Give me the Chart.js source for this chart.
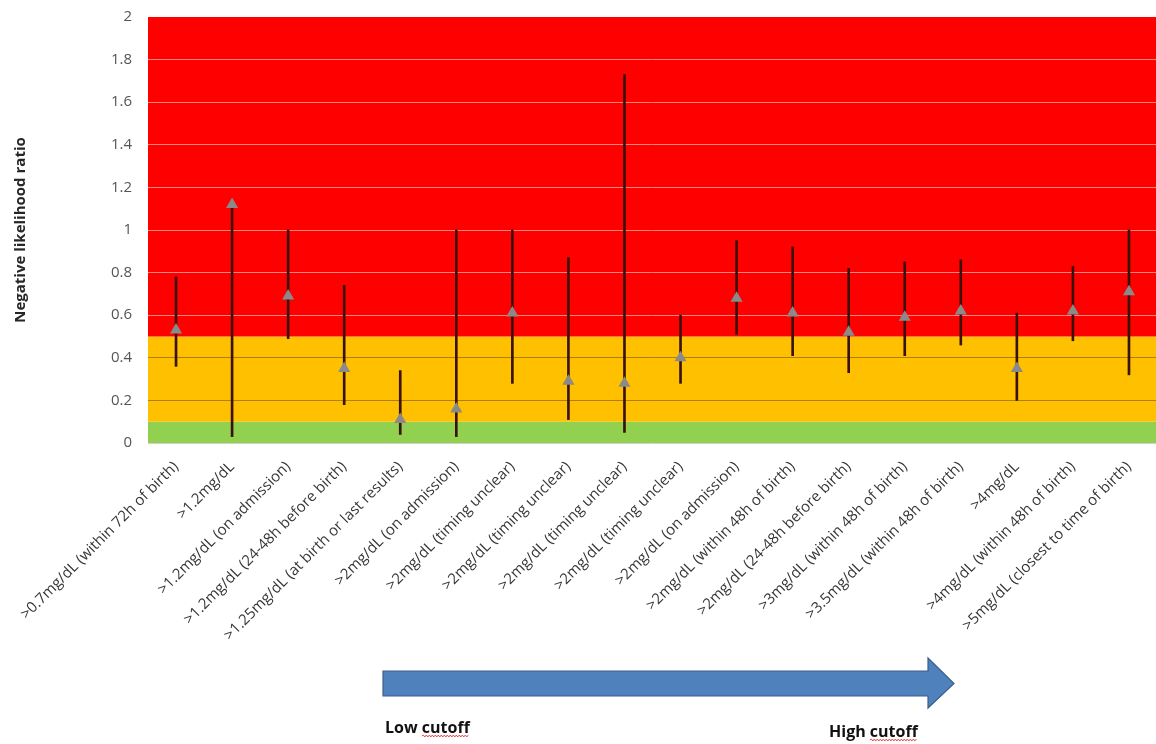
<!DOCTYPE html>
<html>
<head>
<meta charset="utf-8">
<script src="https://cdn.jsdelivr.net/npm/chart.js@4.4.1/dist/chart.umd.min.js"></script>
<style>
  html, body { margin: 0; padding: 0; background: #fff; overflow: hidden; }
  #wrap { width: 1164px; height: 744px; }
</style>
</head>
<body>
<div id="wrap"><canvas id="nlr" width="1164" height="744"></canvas></div>
<script>
// Bilirubin cut-offs, ordered from low to high threshold
const cutoffLabels = [
  ">0.7mg/dL (within 72h of birth)",
  ">1.2mg/dL",
  ">1.2mg/dL (on admission)",
  ">1.2mg/dL (24-48h before birth)",
  ">1.25mg/dL (at birth or last results)",
  ">2mg/dL (on admission)",
  ">2mg/dL (timing unclear)",
  ">2mg/dL (timing unclear)",
  ">2mg/dL (timing unclear)",
  ">2mg/dL (timing unclear)",
  ">2mg/dL (on admission)",
  ">2mg/dL (within 48h of birth)",
  ">2mg/dL (24-48h before birth)",
  ">3mg/dL (within 48h of birth)",
  ">3.5mg/dL (within 48h of birth)",
  ">4mg/dL",
  ">4mg/dL (within 48h of birth)",
  ">5mg/dL (closest to time of birth)"
];

// Negative likelihood ratio point estimates
const nlrValues = [0.53, 1.12, 0.69, 0.35, 0.11, 0.16, 0.61, 0.29, 0.28, 0.40, 0.68, 0.61, 0.52, 0.59, 0.62, 0.35, 0.62, 0.71];
// 95% confidence interval bounds
const ciLower = [0.36, 0.03, 0.49, 0.18, 0.04, 0.03, 0.28, 0.11, 0.05, 0.28, 0.51, 0.41, 0.33, 0.41, 0.46, 0.20, 0.48, 0.32];
const ciUpper = [0.78, 1.12, 1.00, 0.74, 0.34, 1.00, 1.00, 0.87, 1.73, 0.60, 0.95, 0.92, 0.82, 0.85, 0.86, 0.61, 0.83, 1.00];

// Y axis tick labels (0 to 2 in steps of 0.2)
const yTickLabels = ["0", "0.2", "0.4", "0.6", "0.8", "1", "1.2", "1.4", "1.6", "1.8", "2"];

// Background zones: useful (green), moderate (amber), poor (red)
const zoneBounds = [0, 0.1, 0.5, 2];
const zoneColors = ["#92d050", "#ffc000", "#ff0000"];

const FONT = '"Open Sans", "Liberation Sans", Arial, sans-serif';

const zonePlugin = {
  id: "zones",
  beforeDraw(chart) {
    const { ctx, chartArea: a, scales: { y } } = chart;
    ctx.save();
    ctx.fillStyle = "#ffffff";
    ctx.fillRect(0, 0, chart.width, chart.height);
    for (let i = 0; i < zoneColors.length; i++) {
      const top = y.getPixelForValue(zoneBounds[i + 1]);
      const bottom = y.getPixelForValue(zoneBounds[i]);
      ctx.fillStyle = zoneColors[i];
      ctx.fillRect(a.left, top, a.right - a.left, bottom - top);
    }
    ctx.restore();
  }
};

function squiggle(ctx, x0, x1, y) {
  ctx.beginPath();
  let up = true;
  ctx.moveTo(x0, y);
  for (let x = x0 + 1.5; x <= x1; x += 1.5) {
    ctx.lineTo(x, up ? y - 1 : y + 1);
    up = !up;
  }
  ctx.strokeStyle = "rgba(225,40,40,0.8)";
  ctx.lineWidth = 1;
  ctx.stroke();
}

// Direction arrow with its two end captions
const arrowPlugin = {
  id: "cutoffArrow",
  afterDraw(chart) {
    const ctx = chart.ctx;
    ctx.save();
    ctx.beginPath();
    ctx.moveTo(383, 671);
    ctx.lineTo(928, 671);
    ctx.lineTo(928, 658);
    ctx.lineTo(954, 683.5);
    ctx.lineTo(928, 708);
    ctx.lineTo(928, 696);
    ctx.lineTo(383, 696);
    ctx.closePath();
    ctx.fillStyle = "#4f81bd";
    ctx.fill();
    ctx.strokeStyle = "#3a5f8c";
    ctx.lineWidth = 1.2;
    ctx.stroke();

    ctx.font = "bold 16px " + FONT;
    ctx.fillStyle = "#111";
    ctx.textBaseline = "alphabetic";
    const captions = [["Low ", "cutoff", 385, 733], ["High ", "cutoff", 829, 737]];
    for (const [w1, w2, x, y] of captions) {
      ctx.fillText(w1 + w2, x, y);
      const sx = x + ctx.measureText(w1).width;
      squiggle(ctx, sx, sx + ctx.measureText(w2).width, y + 3);
    }
    ctx.restore();
  }
};

function gridColor(c) {
  const v = c.tick ? c.tick.value : 0;
  if (v >= 1.99) return "rgba(0,0,0,0)";
  if (v <= 0.001) return "#d0d0d0";
  if (v > 0.5) return "rgba(255,175,175,0.75)";
  return "rgba(150,110,20,0.8)";
}

function draw() {
  new Chart(document.getElementById("nlr"), {
    data: {
      labels: cutoffLabels,
      datasets: [
        {
          type: "line",
          label: "Negative likelihood ratio",
          data: nlrValues,
          showLine: false,
          pointStyle: "triangle",
          pointRadius: 7,
          pointBackgroundColor: "#8a8a8a",
          pointBorderColor: "#8a8a8a",
          pointBorderWidth: 0,
          order: 0
        },
        {
          type: "bar",
          label: "95% CI",
          data: ciLower.map((lo, i) => [lo, ciUpper[i]]),
          backgroundColor: "#3a120c",
          borderWidth: 0,
          barThickness: 2,
          order: 1
        }
      ]
    },
    options: {
      responsive: false,
      animation: false,
      events: [],
      layout: { padding: { top: 17, left: 0, right: 0, bottom: 0 } },
      plugins: { legend: { display: false }, tooltip: { enabled: false } },
      scales: {
        x: {
          grid: { display: false, drawTicks: false },
          border: { display: false },
          ticks: {
            autoSkip: false,
            minRotation: 45,
            maxRotation: 45,
            padding: 15,
            color: "#363636",
            font: { family: FONT, size: 15 }
          },
          afterFit(s) { s.height = 301; s.paddingLeft = 0; s.paddingRight = 0; }
        },
        y: {
          min: 0,
          max: 2,
          ticks: {
            stepSize: 0.2,
            padding: 16,
            color: "#555555",
            font: { family: FONT, size: 15 },
            callback: (v, i) => yTickLabels[i]
          },
          grid: { drawTicks: false, color: gridColor, lineWidth: 1 },
          border: { display: false },
          title: {
            display: true,
            text: "Negative likelihood ratio",
            color: "#262626",
            font: { family: FONT, size: 15, weight: "bold" },
            padding: { top: 12, bottom: 0 }
          },
          afterFit(s) { s.width = 148; s.paddingTop = 0; s.paddingBottom = 0; }
        }
      }
    },
    plugins: [zonePlugin, arrowPlugin]
  });
}

Promise.all([
  document.fonts.load('15px "Open Sans"'),
  document.fonts.load('bold 15px "Open Sans"')
]).then(draw, draw);
</script>
</body>
</html>
